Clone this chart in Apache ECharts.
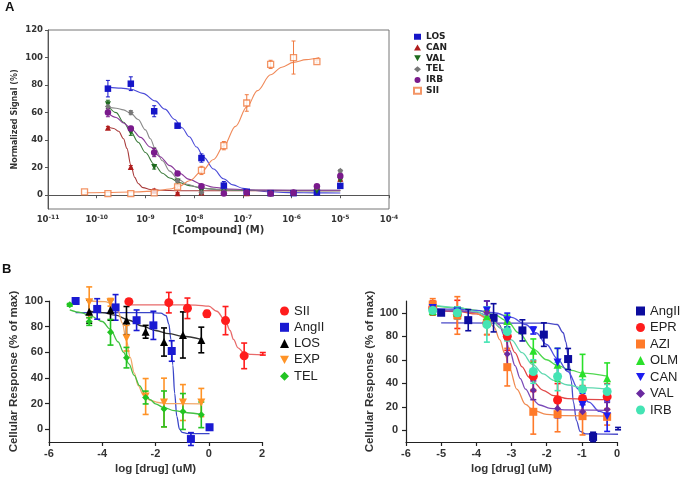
<!DOCTYPE html>
<html>
<head>
<meta charset="utf-8">
<script src="https://cdn.jsdelivr.net/npm/echarts@6/dist/echarts.min.js"></script>
<style>
html,body{margin:0;padding:0;background:#fff;}
#chart{width:685px;height:480px;}
</style>
</head>
<body>
<div id="chart"></div>
<script>
// ---------------- Panel A (log10 molar concentration) ----------------
const logConcA = [-10.25, -9.77, -9.3, -8.82, -8.34, -7.85, -7.39, -6.92, -6.43, -5.96, -5.48, -5.0];
const xTicksA = [-11, -10, -9, -8, -7, -6, -5, -4];
const losA    = [null, 77.4, 81, 61, 50.5, 27, 7, 2.5, 1.5, 1.5, 2, 6.8];
const losErrA = [0, 6, 5, 4, 1.5, 3, 3, 1, 1, 1, 1, 1];
const canA    = [null, 49, 20.5, 3.5, 1.5, 2, 2, 1.5, 1.5, 2, 6, 12];
const canErrA = [0, 1, 1, 1, 0.5, 0.5, 0.5, 0.5, 0.5, 0.5, 1, 1];
const valA    = [null, 66, 45.5, 20.5, 10, 3, 2, 1.5, 1, 1.5, 3, 11];
const valErrA = [0, 3, 2, 1.5, 1, 1, 1, 1, 1, 1, 1, 1];
const telA    = [null, 64.5, 60, 31.5, 10.5, 2, 2.5, 2, 1.5, 2, 5.5, 17.7];
const telErrA = [0, 2, 1.5, 3, 1, 1, 1, 1, 1, 1, 1, 1];
const irbA    = [null, 60, 48.5, 31, 15.8, 6.5, 1.2, 2, 1.2, 2, 6.5, 13.9];
const irbErrA = [0, 3, 1.5, 3, 1, 1, 1, 1, 1, 1, 1, 2];
const siiA    = [2.4, 1.2, 1.2, 1.7, 6, 18, 36, 67, 95, 100, 97, null];
const siiErrA = [0, 0, 0, 0.5, 1, 3, 3, 6, 3, 12, 1, 0];

const losFitA = [[-9.77,78.5],[-9.5,77.8],[-9.3,77],[-9.05,74],[-8.8,68.5],[-8.6,62.5],[-8.4,55],[-8.25,49],[-8.1,42.5],[-7.95,35],[-7.8,27.5],[-7.6,19],[-7.4,12],[-7.2,7.5],[-7.0,5],[-6.8,3.6],[-6.5,2.5],[-6.0,1.9],[-5.5,1.7],[-5.0,1.6]];
const canFitA = [[-9.77,49.5],[-9.65,48.5],[-9.55,46.5],[-9.45,41],[-9.38,34],[-9.3,22],[-9.22,13],[-9.15,8.5],[-9.05,5.5],[-8.9,4.2],[-8.7,3.6],[-8.3,3.3],[-7,3.2],[-5,3.2]];
const valFitA = [[-9.77,65],[-9.6,60],[-9.45,53],[-9.3,46],[-9.15,38.5],[-9,31],[-8.82,22.5],[-8.65,16],[-8.5,12.5],[-8.3,9.3],[-8.1,7],[-7.85,5.2],[-7.5,4],[-7,3.5],[-6,3.3],[-5,3.3]];
const telFitA = [[-9.77,63.8],[-9.6,63.2],[-9.45,62],[-9.3,59.5],[-9.15,55],[-9.0,47.5],[-8.9,41],[-8.8,34],[-8.65,25],[-8.5,17.5],[-8.34,12],[-8.15,8],[-7.95,6],[-7.7,4.6],[-7.3,3.9],[-6.5,3.6],[-5,3.5]];
const irbFitA = [[-9.77,59.5],[-9.6,56.5],[-9.45,52.5],[-9.3,48.5],[-9.1,42],[-8.9,35],[-8.7,28],[-8.5,21.5],[-8.3,16],[-8.1,11.5],[-7.85,8],[-7.6,5.8],[-7.3,4.5],[-6.8,3.8],[-6,3.6],[-5,3.6]];
const siiFitA = [[-10.25,1.8],[-9.8,2],[-9.3,2.3],[-8.8,3],[-8.5,4.5],[-8.3,6.5],[-8.1,10.5],[-7.85,17],[-7.6,26],[-7.39,36],[-7.15,50],[-6.92,64],[-6.7,76],[-6.43,87.5],[-6.2,93],[-5.96,96.5],[-5.7,98.5],[-5.43,100]];

// ---------------- Panel B left (log [drug] uM) ----------------
const siiXB = [-3.0, -1.5, -0.8, -0.07, 0.63, 1.33, 2.03];
const siiB = [99.5, 98.7, 94.3, 90, 84.7, 57.2, 58.8];
const siiErrB = [2, 8, 8, 2.5, 11, 10, 1];
const angXB = [-5.0, -4.19, -3.5, -2.71, -2.08, -1.39, -0.67, 0.03];
const angB = [100, 93.8, 95, 85, 81, 61, -7.7, 1.5];
const angErrB = [1, 8, 10, 8, 11, 8, 5, 2];
const losXB = [-4.49, -3.69, -3.09, -2.37, -1.68, -0.97, -0.28];
const losB = [91.7, 93, 84.7, 76, 68, 73.5, 69.6];
const losErrB = [9, 8, 11, 5, 11, 18, 10];
const expXB = [-4.49, -3.69, -3.09, -2.37, -1.68, -0.97, -0.28];
const expB = [99, 99, 71, 25.5, 20.8, 20.8, 20.8];
const expErrB = [12, 3, 10, 14, 19, 14, 11];
const telXB = [-5.22, -4.49, -3.69, -3.09, -2.37, -1.68, -0.97, -0.28];
const telB = [97, 84, 75.6, 55.8, 24.7, 15.8, 13.8, 11.2];
const telErrB = [1, 3, 10, 8, 5, 14, 14, 10];

const siiFitB = [[-3,97],[-1.5,97],[-0.5,96.8],[0,96],[0.3,92],[0.62,84.7],[0.8,77],[0.93,70],[1.1,63.5],[1.31,59.7],[1.6,58.3],[2.03,58]];
const angFitB = [[-5,91],[-2.2,91],[-1.8,90.5],[-1.6,88.5],[-1.5,82],[-1.42,70],[-1.35,50],[-1.28,28],[-1.2,10],[-1.1,0],[-1.0,-2.5],[-0.8,-3.4],[0.03,-3.5]];
const losFitB = [[-4.49,92],[-4,91],[-3.5,89],[-3,85],[-2.5,80.5],[-2,77],[-1.5,74.5],[-1,72.5],[-0.28,70]];
const expFitB = [[-4.49,100],[-3.9,99.5],[-3.6,97.5],[-3.4,92],[-3.25,83],[-3.1,70],[-2.95,56],[-2.8,44],[-2.65,34],[-2.45,26.5],[-2.2,22.5],[-1.9,20.8],[-1.5,20],[-0.28,19.8]];
const telFitB = [[-5.22,93],[-4.8,91],[-4.4,88],[-4,84],[-3.7,78],[-3.4,68],[-3.2,60],[-3,51],[-2.8,42],[-2.6,34],[-2.4,27.5],[-2.2,23],[-2,19.8],[-1.7,17],[-1.3,14.5],[-0.8,12.8],[-0.28,11.5]];

// ---------------- Panel B right (log [drug] uM) ----------------
const concXR = [-5.24, -4.54, -3.7, -3.12, -2.38, -1.69, -0.98, -0.28];
const angXR = [-5.0, -4.23, -3.51, -2.69, -2.08, -1.39, -0.68, 0.03];
const angR = [100, 93.7, 95.7, 85, 81.4, 60.6, -5.7, 1.4];
const angErrR = [1, 9, 12, 9, 10, 9, 4, 1];
const eprR = [104, 98.6, 91.4, 80, 46, 25.7, 27, 28.6];
const eprErrR = [6, 12, 10, 12, 13, 14, 11, 11];
const aziR = [107, 97.7, 91.4, 53.7, 15.7, 13.7, 12, 11.4];
const aziErrR = [5, 16, 10, 16, 19, 15, 16, 7];
const olmR = [101.4, 100, 97, 93, 67.7, 55.7, 48.6, 44.3];
const olmErrR = [3, 5, 5, 5, 10, 14, 16, 13];
const canR = [104, 101, 102, 93.7, 84.9, 57.7, 21.4, 12];
const canErrR = [4, 3, 8, 6, 3, 12, 10, 13];
const valR = [104, 100, 100, 65, 34, 18.6, 15.7, 17.7];
const valErrR = [3, 5, 10, 12, 8, 8, 6, 6];
const irbR = [102, 100, 90, 84, 50, 45.7, 35, 33];
const irbErrR = [3, 5, 15, 8, 10, 12, 8, 6];

const angFitR = [[-5,91.4],[-2.0,91.2],[-1.7,90],[-1.53,83],[-1.45,75],[-1.39,63],[-1.3,42],[-1.24,24],[-1.15,8],[-1.05,-1],[-0.9,-3],[0.03,-3.4]];
const eprFitR = [[-5.24,102],[-4.5,101],[-4,99],[-3.6,95],[-3.3,87],[-3.1,78],[-2.9,66],[-2.7,54],[-2.5,45],[-2.38,41],[-2.1,34],[-1.8,29.5],[-1.4,27],[-0.9,26.3],[-0.28,26]];
const aziFitR = [[-5.24,103],[-4.5,102],[-4,99.5],[-3.7,95],[-3.5,88],[-3.33,77],[-3.2,66],[-3.05,52],[-2.85,35],[-2.6,22],[-2.38,17],[-2,13.5],[-1.5,12.4],[-0.28,12]];
const olmFitR = [[-5.24,106],[-4.5,104],[-4,102],[-3.5,98.5],[-3.12,93],[-2.8,83],[-2.38,69],[-2.0,60],[-1.69,55],[-1.3,51],[-0.98,48.6],[-0.28,46]];
const canFitR = [[-5.24,103.5],[-4.5,103],[-4,102],[-3.5,100],[-3,96],[-2.6,90],[-2.3,83],[-2,73],[-1.7,61],[-1.4,50],[-1.1,35],[-0.8,24],[-0.5,16],[-0.28,12.5]];
const valFitR = [[-5.24,102],[-4.5,101.5],[-4,100.5],[-3.6,97],[-3.35,90],[-3.2,80],[-3.05,68],[-2.9,55],[-2.75,44],[-2.6,35],[-2.4,26],[-2.2,21.5],[-1.9,18.6],[-1.5,17.4],[-0.28,17]];
const irbFitR = [[-5.24,106.5],[-4.5,104.5],[-4,101],[-3.6,95],[-3.3,87],[-3.0,77],[-2.7,66],[-2.4,56],[-2.1,48],[-1.8,42.5],[-1.4,38.5],[-1,36.2],[-0.28,35]];

const yTicksA = [0, 20, 40, 60, 80, 100, 120];
const yTicksB = [0, 20, 40, 60, 80, 100];

// ---------------- helpers ----------------
const DOWN_TRI = 'path://M0,0L10,0L5,9Z';
function pts(xs, ys) { const out = []; xs.forEach((x, i) => { if (ys[i] !== null) out.push([x, ys[i]]); }); return out; }
function errs(xs, ys, es) { const out = []; xs.forEach((x, i) => { if (ys[i] !== null && es[i] > 0.4) out.push([x, ys[i], es[i]]); }); return out; }

function scatter(name, xs, ys, gi, symbol, size, color, extra) {
  return Object.assign({
    type: 'scatter', name, xAxisIndex: gi, yAxisIndex: gi, data: pts(xs, ys),
    symbol, symbolSize: size, itemStyle: { color: color, opacity: 1 }, z: 4,
    emphasis: { disabled: true }
  }, extra || {});
}
function fit(name, pairs, gi, color, w) {
  return {
    type: 'line', name: name + ' fit', xAxisIndex: gi, yAxisIndex: gi, data: pairs,
    smooth: 0.35, smoothMonotone: 'x', showSymbol: false, symbol: 'none', clip: false,
    lineStyle: { color: color, width: w }, z: 2, silent: true
  };
}
function errBars(name, xs, ys, es, gi, color, capW, lw) {
  return {
    type: 'custom', name: name + ' err', xAxisIndex: gi, yAxisIndex: gi,
    data: errs(xs, ys, es), encode: { x: 0, y: 1 }, z: 3, silent: true,
    renderItem: function (params, api) {
      const x = api.value(0), y = api.value(1), e = api.value(2);
      const t = api.coord([x, y + e]), b = api.coord([x, y - e]);
      const h = capW / 2;
      const st = { stroke: color, lineWidth: lw };
      return { type: 'group', children: [
        { type: 'line', shape: { x1: t[0], y1: t[1], x2: b[0], y2: b[1] }, style: st },
        { type: 'line', shape: { x1: t[0] - h, y1: t[1], x2: t[0] + h, y2: t[1] }, style: st },
        { type: 'line', shape: { x1: b[0] - h, y1: b[1], x2: b[0] + h, y2: b[1] }, style: st }
      ]};
    }
  };
}

const FONT = 'Liberation Sans, Arial, sans-serif';
const series = [];
// Panel A, grid 0
const A = [
  ['A:LOS', losA, losErrA, losFitA, 'rect', 6.5, '#1515c8', '#4a4ad8'],
  ['A:CAN', canA, canErrA, canFitA, 'triangle', 6, '#b01c1c', '#a83a3a'],
  ['A:VAL', valA, valErrA, valFitA, DOWN_TRI, 6, '#1d6b1d', '#3a7a3a'],
  ['A:TEL', telA, telErrA, telFitA, 'diamond', 6, '#777777', '#8a8a8a'],
  ['A:IRB', irbA, irbErrA, irbFitA, 'circle', 6.5, '#7a1a8c', '#8a3a9a'],
];
A.forEach(s => {
  series.push(fit(s[0], s[3], 0, s[7], 1.1));
  series.push(errBars(s[0], logConcA, s[1], s[2], 0, s[6], 4, 1));
  series.push(scatter(s[0], logConcA, s[1], 0, s[4], s[5], s[6]));
});
series.push(fit('A:SII', siiFitA, 0, '#f08a5a', 1.1));
series.push(errBars('A:SII', logConcA, siiA, siiErrA, 0, '#f07a40', 4, 1));
series.push(scatter('A:SII', logConcA, siiA, 0, 'rect', 6, '#ffffff',
  { itemStyle: { color: '#ffffff', borderColor: '#f07a40', borderWidth: 1.3 } }));

// Panel B left, grid 1
const BL = [
  ['L:SII', siiXB, siiB, siiErrB, siiFitB, 'circle', 9, '#ff1c1c', '#e86a6a'],
  ['L:AngII', angXB, angB, angErrB, angFitB, 'rect', 8, '#1a1ad2', '#3a46c8'],
  ['L:LOS', losXB, losB, losErrB, losFitB, 'triangle', 8, '#000000', '#333333'],
  ['L:EXP', expXB, expB, expErrB, expFitB, DOWN_TRI, 8, '#ff9326', '#f2a868'],
  ['L:TEL', telXB, telB, telErrB, telFitB, 'diamond', 7, '#22c422', '#44c044'],
];
BL.forEach(s => {
  series.push(fit(s[0], s[4], 1, s[8], 1.3));
  series.push(errBars(s[0], s[1], s[2], s[3], 1, s[7], 6, 1.6));
  series.push(scatter(s[0], s[1], s[2], 1, s[5], s[6], s[7]));
});

// Panel B right, grid 2
const BR = [
  ['R:AngII', angXR, angR, angErrR, angFitR, 'rect', 8, '#0c0c9e', '#4a4ac8'],
  ['R:EPR', concXR, eprR, eprErrR, eprFitR, 'circle', 9, '#ff1c1c', '#e04848'],
  ['R:AZI', concXR, aziR, aziErrR, aziFitR, 'rect', 8, '#ff7a2a', '#f08a50'],
  ['R:OLM', concXR, olmR, olmErrR, olmFitR, 'triangle', 8, '#2ae02a', '#50d850'],
  ['R:CAN', concXR, canR, canErrR, canFitR, DOWN_TRI, 8, '#1c1cf0', '#5050e0'],
  ['R:VAL', concXR, valR, valErrR, valFitR, 'diamond', 7, '#6a2aa0', '#7a4ab8'],
  ['R:IRB', concXR, irbR, irbErrR, irbFitR, 'circle', 9, '#44e4b4', '#60d8b0'],
];
BR.forEach(s => {
  series.push(fit(s[0], s[4], 2, s[8], 1.3));
  series.push(errBars(s[0], s[1], s[2], s[3], 2, s[7], 6, 1.6));
  series.push(scatter(s[0], s[1], s[2], 2, s[5], s[6], s[7]));
});

const supLabel = v => '{b|10}{s|' + v + '}';

const option = {
  animation: false,
  backgroundColor: '#ffffff',
  title: [
    { text: 'A', left: 5, top: 1, padding: 0, textStyle: { fontFamily: FONT, fontSize: 13, fontWeight: 'bold', color: '#111' } },
    { text: 'B', left: 2, top: 263, padding: 0, textStyle: { fontFamily: FONT, fontSize: 13, fontWeight: 'bold', color: '#111' } }
  ],
  grid: [
    { left: 48, top: 30, width: 341, height: 179, show: true, borderColor: '#777', borderWidth: 1, backgroundColor: 'transparent' },
    { left: 49, top: 301, width: 213, height: 141 },
    { left: 406, top: 301, width: 211, height: 141 }
  ],
  xAxis: [
    { gridIndex: 0, type: 'value', min: -11, max: -4, interval: 1,
      axisLine: { lineStyle: { color: '#555', width: 1 } },
      axisTick: { length: 3, lineStyle: { color: '#555' } }, splitLine: { show: false },
      axisLabel: { margin: 5, formatter: supLabel, rich: {
        b: { fontFamily: 'DejaVu Sans', fontSize: 8.5, fontWeight: 'bold', color: '#333' },
        s: { fontFamily: 'DejaVu Sans', fontSize: 6, fontWeight: 'bold', color: '#333', verticalAlign: 'top', padding: [0, 0, 5, 0] } } },
      name: '[Compound] (M)', nameLocation: 'middle', nameGap: 16,
      nameTextStyle: { fontFamily: 'DejaVu Sans', fontSize: 10, fontWeight: 'bold', color: '#333' } },
    { gridIndex: 1, type: 'value', min: -6, max: 2, interval: 2,
      axisLine: { onZero: false, lineStyle: { color: '#222', width: 1.2 } },
      axisTick: { length: 4, lineStyle: { color: '#222', width: 1.2 } }, splitLine: { show: false },
      axisLabel: { margin: 6, fontFamily: FONT, fontSize: 11, fontWeight: 'bold', color: '#333' },
      name: 'log [drug] (uM)', nameLocation: 'middle', nameGap: 21,
      nameTextStyle: { fontFamily: FONT, fontSize: 11.5, fontWeight: 'bold', color: '#333' } },
    { gridIndex: 2, type: 'value', min: -6, max: 0, interval: 1,
      axisLine: { onZero: false, lineStyle: { color: '#222', width: 1.2 } },
      axisTick: { length: 4, lineStyle: { color: '#222', width: 1.2 } }, splitLine: { show: false },
      axisLabel: { margin: 6, fontFamily: FONT, fontSize: 11, fontWeight: 'bold', color: '#333' },
      name: 'log [drug] (uM)', nameLocation: 'middle', nameGap: 21,
      nameTextStyle: { fontFamily: FONT, fontSize: 11.5, fontWeight: 'bold', color: '#333' } }
  ],
  yAxis: [
    { gridIndex: 0, type: 'value', min: -10, max: 120,
      axisLine: { show: true, onZero: false, lineStyle: { color: '#555', width: 1 } },
      axisTick: { show: true, length: 3, lineStyle: { color: '#555' }, customValues: yTicksA }, splitLine: { show: false },
      axisLabel: { margin: 5, customValues: yTicksA, fontFamily: 'DejaVu Sans', fontSize: 8.5, fontWeight: 'bold', color: '#333' },
      name: 'Normalized Signal (%)', nameLocation: 'middle', nameGap: 29,
      nameTextStyle: { fontFamily: 'DejaVu Sans', fontSize: 8, fontWeight: 'bold', color: '#333' } },
    { gridIndex: 1, type: 'value', min: -10, max: 100,
      axisLine: { show: true, onZero: false, lineStyle: { color: '#222', width: 1.2 } },
      axisTick: { show: true, length: 4, lineStyle: { color: '#222', width: 1.2 }, customValues: yTicksB }, splitLine: { show: false },
      axisLabel: { margin: 6, customValues: yTicksB, fontFamily: FONT, fontSize: 11, fontWeight: 'bold', color: '#333' },
      name: 'Cellular Response (% of max)', nameLocation: 'middle', nameGap: 29,
      nameTextStyle: { fontFamily: FONT, fontSize: 11.5, fontWeight: 'bold', color: '#333' } },
    { gridIndex: 2, type: 'value', min: -10, max: 110,
      axisLine: { show: true, onZero: false, lineStyle: { color: '#222', width: 1.2 } },
      axisTick: { show: true, length: 4, lineStyle: { color: '#222', width: 1.2 }, customValues: yTicksB }, splitLine: { show: false },
      axisLabel: { margin: 8, customValues: yTicksB, fontFamily: FONT, fontSize: 11, fontWeight: 'bold', color: '#333' },
      name: 'Cellular Response (% of max)', nameLocation: 'middle', nameGap: 30,
      nameTextStyle: { fontFamily: FONT, fontSize: 11.5, fontWeight: 'bold', color: '#333' } }
  ],
  legend: [
    { orient: 'vertical', left: 413, top: 32, padding: 0, itemWidth: 7, itemHeight: 6, itemGap: 1.3,
      data: ['A:LOS', 'A:CAN', 'A:VAL', 'A:TEL', 'A:IRB', 'A:SII'], selectedMode: false,
      formatter: n => n.split(':')[1],
      textStyle: { fontFamily: 'DejaVu Sans', fontSize: 9, fontWeight: 'bold', color: '#222', lineHeight: 9.5 } },
    { orient: 'vertical', left: 280, top: 304, padding: 0, itemWidth: 9, itemHeight: 9, itemGap: 2.3,
      data: ['L:SII', 'L:AngII', 'L:LOS', 'L:EXP', 'L:TEL'], selectedMode: false,
      formatter: n => n.split(':')[1],
      textStyle: { fontFamily: FONT, fontSize: 13, color: '#222', lineHeight: 14 } },
    { orient: 'vertical', left: 636, top: 304, padding: 0, itemWidth: 9, itemHeight: 9, itemGap: 2.5,
      data: ['R:AngII', 'R:EPR', 'R:AZI', 'R:OLM', 'R:CAN', 'R:VAL', 'R:IRB'], selectedMode: false,
      formatter: n => n.split(':')[1],
      textStyle: { fontFamily: FONT, fontSize: 13, color: '#222', lineHeight: 14 } }
  ],
  series: series
};

const chart = echarts.init(document.getElementById('chart'), null, { renderer: 'canvas' });
chart.setOption(option);
</script>
</body>
</html>
